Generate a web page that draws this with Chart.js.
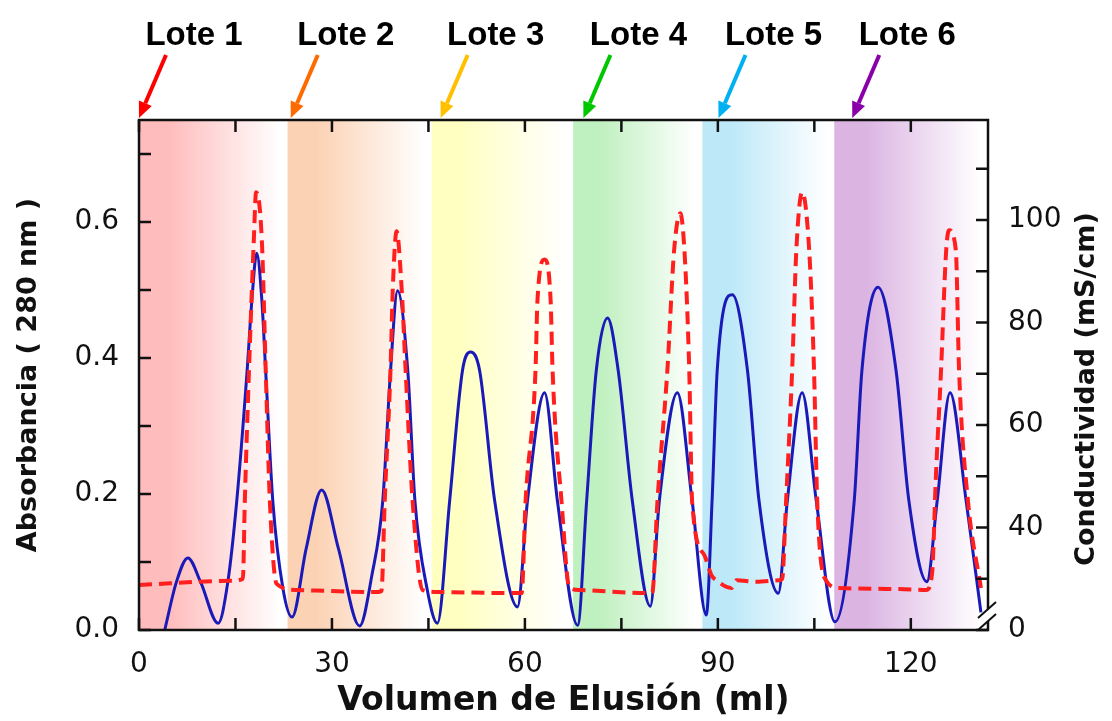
<!DOCTYPE html>
<html lang="es">
<head>
<meta charset="utf-8">
<title>Cromatografía por lotes</title>
<script src="https://cdn.jsdelivr.net/npm/chart.js@4.4.1/dist/chart.umd.min.js"></script>
<style>
  html, body { margin: 0; padding: 0; background: #fff; }
  #contenedor { width: 1112px; height: 721px; position: relative; }
</style>
</head>
<body>
<div id="contenedor"><canvas id="graficaElusion"></canvas></div>
<script>
// Absorbancia (280 nm) vs volumen de elusión (ml)
const volAbs = [4.0, 5.8, 7.6, 9.6, 12.3, 13.8, 15.2, 16.8, 17.55, 18.3, 19.1, 19.7, 20.8, 22.4, 23.8,
  26.0, 28.4, 31.0, 34.3, 36.2, 37.9, 39.1, 40.2, 41.8, 42.9, 44.8, 46.4,
  48.3, 50.3, 51.55, 52.95, 55.3, 58.85, 60.4, 63.05, 65.05, 68.2,
  69.6, 71.1, 72.85, 74.5, 76.7, 79.5, 80.9, 83.7, 86.0, 88.2,
  89.1, 89.9, 92.25, 94.6, 96.4, 99.4, 100.8, 103.1, 105.3, 108.2,
  111.2, 112.4, 114.9, 117.7, 119.7, 122.5, 124.1, 126.1, 128.6, 130.9];
const absorbancia = [0.0, 0.07, 0.106, 0.07, 0.01, 0.07, 0.19, 0.38, 0.485, 0.554, 0.485, 0.38, 0.19, 0.06, 0.019,
  0.12, 0.206, 0.12, 0.006, 0.08, 0.19, 0.38, 0.499, 0.38, 0.19, 0.06, 0.01,
  0.19, 0.382, 0.409, 0.382, 0.19, 0.034, 0.19, 0.349, 0.19, 0.007,
  0.19, 0.382, 0.459, 0.382, 0.19, 0.035, 0.19, 0.349, 0.19, 0.022,
  0.19, 0.382, 0.493, 0.382, 0.19, 0.054, 0.19, 0.349, 0.19, 0.012,
  0.19, 0.382, 0.504, 0.382, 0.19, 0.071, 0.19, 0.349, 0.19, 0.026];

// Conductividad (mS/cm) vs volumen de elusión (ml)
const volCond = [0, 14.5, 16.15, 16.45, 17.1, 17.85, 18.2, 19.1, 19.7, 20.35, 21.4, 24.5,
  30.0, 36.6, 37.7, 38.2, 39.1, 39.45, 40.05, 40.85, 41.45, 42.55, 44.1, 46.7,
  58.4, 59.5, 60.1, 61.65, 61.95, 63.05, 64.0, 64.3, 65.7, 66.9, 68.5,
  79.35, 79.8, 80.6, 82.15, 83.2, 84.15, 84.8, 85.55, 86.0, 87.9, 89.0, 89.75, 92.1, 92.9, 96.0, 99.5,
  100.0, 100.6, 101.55, 102.2, 103.1, 104.2, 104.95, 105.45, 106.8, 108.85, 118.2, 122.4,
  123.3, 123.9, 124.7, 125.5, 125.95, 127.0, 127.5, 128.9, 130.9];
const conductividad = [28.8, 29.6, 30, 45, 70.7, 96, 105.4, 96, 70.7, 45, 29.0, 27.8,
  27.6, 27.4, 27.6, 45, 70.7, 86.3, 97.8, 86.3, 70.7, 45, 27.8, 27.4,
  27.2, 27.2, 45, 70.7, 84.3, 92.3, 84.3, 70.7, 45, 28.4, 27.8,
  27.2, 27.2, 45, 70.7, 94.1, 101.3, 94.1, 70.7, 45, 34.6, 30.7, 29.7, 28.2, 29.7, 29.4, 29.7,
  30, 45, 70.7, 94.1, 105.4, 94.1, 70.7, 45, 29.7, 28.2, 28.0, 27.8,
  31, 50, 70.7, 94.1, 98.0, 94.1, 70.7, 45, 28.2];

// Lotes: inicio de cada franja y punto al que apunta la flecha (ml)
const lotes = ['Lote 1', 'Lote 2', 'Lote 3', 'Lote 4', 'Lote 5', 'Lote 6'];
const inicioLote = [0, 23.1, 45.5, 67.5, 87.6, 108.1];
const flechaLote = [0, 23.6, 46.9, 69.1, 90.1, 110.9];

const COLOR_FLECHA = ['#ff0000', '#ff6a00', '#ffc000', '#00c800', '#00b0f0', '#8a00a8'];
const COLOR_FONDO = ['#ffbcbc', '#fcd2b4', '#ffffc2', '#bff0bf', '#bce8f8', '#dbb4e2'];

const aPuntos = (xs, ys) => xs.map((v, i) => ({ x: v, y: ys[i] }));

// =============================================================
//      Plugin: franjas, marco, marcas internas, flechas
// =============================================================
const pluginDecoracion = {
  id: 'decoracion',
  beforeDraw(chart) {
    const { ctx, width, height } = chart;
    ctx.save();
    ctx.fillStyle = '#ffffff';
    ctx.fillRect(0, 0, width, height);
    ctx.restore();
  },
  beforeDatasetsDraw(chart) {
    const { ctx, chartArea: a, scales: { x } } = chart;
    ctx.save();
    inicioLote.forEach((ini, i) => {
      const x0 = x.getPixelForValue(ini);
      const x1 = i < inicioLote.length - 1 ? x.getPixelForValue(inicioLote[i + 1]) : a.right;
      const g = ctx.createLinearGradient(x0, 0, x1, 0);
      g.addColorStop(0, COLOR_FONDO[i]);
      g.addColorStop(0.2, COLOR_FONDO[i]);
      g.addColorStop(0.95, '#ffffff');
      ctx.fillStyle = g;
      ctx.fillRect(x0, a.top, x1 - x0, a.bottom - a.top);
    });
    ctx.restore();
  },
  afterDatasetsDraw(chart) {
    const { ctx, chartArea: a, scales } = chart;
    ctx.save();

    // marco
    ctx.strokeStyle = '#111';
    ctx.lineWidth = 2.5;
    ctx.strokeRect(a.left, a.top, a.right - a.left, a.bottom - a.top);

    // marcas hacia dentro
    const L = 12;
    ctx.beginPath();
    scales.x.ticks.forEach(t => {
      const px = scales.x.getPixelForValue(t.value);
      ctx.moveTo(px, a.bottom); ctx.lineTo(px, a.bottom - L);
      ctx.moveTo(px, a.top); ctx.lineTo(px, a.top + L);
    });
    scales.y.ticks.forEach(t => {
      const py = scales.y.getPixelForValue(t.value);
      ctx.moveTo(a.left, py); ctx.lineTo(a.left + L, py);
    });
    scales.y2.ticks.forEach(t => {
      const py = scales.y2.getPixelForValue(t.value);
      ctx.moveTo(a.right, py); ctx.lineTo(a.right - L, py);
    });
    ctx.stroke();

    // corte del eje derecho
    const r = a.right, b = a.bottom;
    ctx.fillStyle = '#ffffff';
    ctx.beginPath();
    ctx.moveTo(r - 10, b); ctx.lineTo(r + 8, b - 16);
    ctx.lineTo(r + 8, b - 28); ctx.lineTo(r - 10, b - 12);
    ctx.closePath();
    ctx.fill();
    ctx.lineWidth = 2;
    ctx.beginPath();
    ctx.moveTo(r - 10, b); ctx.lineTo(r + 8, b - 16);
    ctx.moveTo(r - 10, b - 12); ctx.lineTo(r + 8, b - 28);
    ctx.stroke();

    // etiquetas de lote y flechas
    ctx.font = 'bold 33px "Liberation Sans", Arial, sans-serif';
    ctx.textAlign = 'center';
    ctx.textBaseline = 'alphabetic';
    lotes.forEach((txt, i) => {
      const tipX = scales.x.getPixelForValue(flechaLote[i]);
      const tipY = a.top - 2;
      ctx.fillStyle = '#000';
      ctx.fillText(txt, tipX + 55, a.top - 75);

      const tailX = tipX + 27, tailY = tipY - 63;
      const ang = Math.atan2(tipY - tailY, tipX - tailX);
      const head = 16, half = 7;
      const baseX = tipX - head * Math.cos(ang), baseY = tipY - head * Math.sin(ang);
      ctx.strokeStyle = COLOR_FLECHA[i];
      ctx.fillStyle = COLOR_FLECHA[i];
      ctx.lineWidth = 4;
      ctx.beginPath();
      ctx.moveTo(tailX, tailY); ctx.lineTo(baseX, baseY);
      ctx.stroke();
      ctx.beginPath();
      ctx.moveTo(tipX, tipY);
      ctx.lineTo(baseX + half * Math.sin(ang), baseY - half * Math.cos(ang));
      ctx.lineTo(baseX - half * Math.sin(ang), baseY + half * Math.cos(ang));
      ctx.closePath();
      ctx.fill();
    });

    // título del eje derecho (leído de abajo hacia arriba)
    ctx.fillStyle = '#111';
    ctx.font = 'bold 27px "DejaVu Sans", sans-serif';
    ctx.textBaseline = 'middle';
    ctx.translate(a.right + 99, (a.top + a.bottom) / 2 + 14);
    ctx.rotate(-Math.PI / 2);
    ctx.fillText('Conductividad (mS/cm)', 0, 0);

    ctx.restore();
  }
};

// =============================================================
//      Gráfica
// =============================================================
const fuenteTicks = { family: '"DejaVu Sans", sans-serif', size: 28 };

new Chart(document.getElementById('graficaElusion'), {
  type: 'line',
  data: {
    datasets: [
      {
        label: 'Conductividad',
        data: aPuntos(volCond, conductividad),
        yAxisID: 'y2',
        borderColor: '#ff1f1f',
        borderWidth: 4,
        borderDash: [13, 7],
        pointRadius: 0,
        cubicInterpolationMode: 'monotone',
        fill: false
      },
      {
        label: 'Absorbancia',
        data: aPuntos(volAbs, absorbancia),
        yAxisID: 'y',
        borderColor: '#1a1ab8',
        borderWidth: 3,
        pointRadius: 0,
        cubicInterpolationMode: 'monotone',
        fill: false
      }
    ]
  },
  options: {
    responsive: true,
    maintainAspectRatio: false,
    animation: false,
    events: [],
    layout: { padding: { top: 120, left: 0, right: 0, bottom: 0 } },
    plugins: { legend: { display: false }, tooltip: { enabled: false } },
    scales: {
      x: {
        type: 'linear',
        min: 0,
        max: 132,
        afterFit: s => { s.height = 91; },
        grid: { display: false, drawTicks: false },
        border: { display: false },
        ticks: {
          stepSize: 15, includeBounds: false, autoSkip: false, maxRotation: 0,
          padding: 18, color: '#111', font: fuenteTicks,
          callback: v => (v % 30 === 0 ? v : '')
        },
        title: {
          display: true, text: 'Volumen de Elusión (ml)', color: '#111',
          font: { family: '"DejaVu Sans", sans-serif', size: 33, weight: 'bold', lineHeight: 1 },
          padding: { top: 0, bottom: 3 }
        }
      },
      y: {
        position: 'left',
        min: 0,
        max: 0.75,
        afterFit: s => { s.width = 139; },
        grid: { display: false, drawTicks: false },
        border: { display: false },
        ticks: {
          stepSize: 0.1, includeBounds: false, autoSkip: false,
          padding: 20, color: '#111', font: fuenteTicks,
          callback: v => (Math.round(v * 10) % 2 === 0 ? v.toFixed(1) : '')
        },
        title: {
          display: true, text: 'Absorbancia ( 280 nm )', color: '#111',
          font: { family: '"DejaVu Sans", sans-serif', size: 27, weight: 'bold', lineHeight: 1 },
          padding: { top: 15, bottom: 0 }
        }
      },
      y2: {
        position: 'right',
        min: 20,
        max: 119.5,
        afterFit: s => { s.width = 124; },
        grid: { display: false, drawTicks: false },
        border: { display: false },
        ticks: {
          stepSize: 10, includeBounds: false, autoSkip: false,
          padding: 20, color: '#111', font: fuenteTicks,
          callback: v => (v === 20 ? '0' : (v % 20 === 0 ? v : ''))
        }
      }
    }
  },
  plugins: [pluginDecoracion]
});
</script>
</body>
</html>
